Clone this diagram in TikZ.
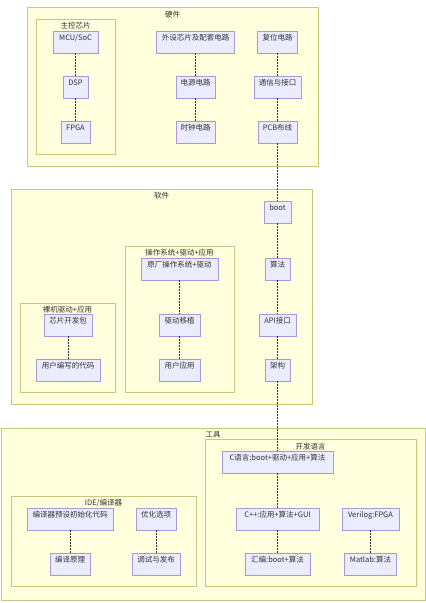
\documentclass[tikz,border=0pt]{standalone}
\usepackage{fontspec}
\setmainfont{Noto Sans CJK SC}
\definecolor{clfill}{HTML}{FFFFDE}
\definecolor{clstroke}{HTML}{C8C87A}
\definecolor{ndfill}{HTML}{ECECFF}
\definecolor{ndstroke}{HTML}{A898DC}
\definecolor{txt}{HTML}{333333}
\tikzset{
  cl/.style={draw=clstroke, fill=clfill, line width=0.7pt},
  ttl/.style={text=txt, font=\fontsize{7.5}{9}\selectfont, inner sep=0pt},
  nd/.style={draw=ndstroke, fill=ndfill, line width=0.7pt, text=txt,
    font=\fontsize{7.5}{9}\selectfont, inner xsep=0pt, inner ysep=0pt,
    text height=6pt, text depth=9pt, minimum height=21.5pt, anchor=north},
  edge/.style={draw=txt, line width=0.6pt, dash pattern=on 1.5pt off 1.5pt}
}
\begin{document}
\begin{tikzpicture}[x=1pt,y=-1pt]
\useasboundingbox (0,0) rectangle (426,603);
% clusters
\draw[cl] (27,7) rectangle (318,166);
\node[ttl] (thw) at (172.5,15) {硬件};
\draw[cl] (36,19) rectangle (115,154);
\node[ttl] (tmain) at (75.5,26) {主控芯片};
\draw[cl] (11,189) rectangle (312,404);
\node[ttl] (tsw) at (161.5,196) {软件};
\draw[cl] (125,246) rectangle (234,392);
\node[ttl] (tos) at (179.5,253) {操作系统+驱动+应用};
\draw[cl] (20,303) rectangle (115,392);
\node[ttl] (tbare) at (67.5,310) {裸机驱动+应用};
\draw[cl] (1,428) rectangle (425,600);
\node[ttl] (ttool) at (213,435) {工具};
\draw[cl] (11,496) rectangle (196,586);
\node[ttl] (tide) at (103.5,503) {IDE/编译器};
\draw[cl] (205,439) rectangle (416,586);
\node[ttl] (tlang) at (310.5,447) {开发语言};
% nodes: hardware
\node[nd, minimum width=45pt] (mcu) at (75.5,31) {MCU/SoC};
\node[nd, minimum width=25pt] (dsp) at (75.5,76) {DSP};
\node[nd, minimum width=29pt] (fpga) at (75.5,121) {FPGA};
\node[nd, minimum width=78pt] (periph) at (195.5,31) {外设芯片及配套电路};
\node[nd, minimum width=39pt] (power) at (195.5,76) {电源电路};
\node[nd, minimum width=39pt] (clock) at (195.5,121) {时钟电路};
\node[nd, minimum width=40pt] (reset) at (277.5,31) {复位电路};
\node[nd, minimum width=47pt] (comm) at (277.5,76) {通信与接口};
\node[nd, minimum width=39pt] (pcb) at (277.5,121) {PCB布线};
% software
\node[nd, minimum width=27pt] (boot) at (277.5,201) {boot};
\node[nd, minimum width=25pt] (algo) at (277.5,258) {算法};
\node[nd, minimum width=37pt] (api) at (277.5,314) {API接口};
\node[nd, minimum width=25pt] (arch) at (277.5,359) {架构};
\node[nd, minimum width=77pt] (vendor) at (179.5,258) {原厂操作系统+驱动};
\node[nd, minimum width=41pt] (port) at (179.5,314) {驱动移植};
\node[nd, minimum width=41pt] (userapp) at (179.5,359) {用户应用};
\node[nd, minimum width=48pt] (sdk) at (68,314) {芯片开发包};
\node[nd, minimum width=64pt] (usercode) at (68,359) {用户编写的代码};
% tools
\node[nd, minimum width=86pt] (preset) at (70,508) {编译器预设初始化代码};
\node[nd, minimum width=40pt] (theory) at (70,553) {编译原理};
\node[nd, minimum width=40pt] (opt) at (156,508) {优化选项};
\node[nd, minimum width=48pt] (debug) at (156,553) {调试与发布};
\node[nd, minimum width=111pt] (clang) at (277.5,451) {C语言:boot+驱动+应用+算法};
\node[nd, minimum width=83pt] (cpp) at (277.5,508) {C++:应用+算法+GUI};
\node[nd, minimum width=65pt] (asm) at (277.5,553) {汇编:boot+算法};
\node[nd, minimum width=57pt] (verilog) at (370.5,508) {Verilog:FPGA};
\node[nd, minimum width=52pt] (matlab) at (370.5,553) {Matlab:算法};
% edges
\draw[edge] (mcu.south) -- (dsp.north);
\draw[edge] (dsp.south) -- (fpga.north);
\draw[edge] (periph.south) -- (power.north);
\draw[edge] (power.south) -- (clock.north);
\draw[edge] (reset.south) -- (comm.north);
\draw[edge] (comm.south) -- (pcb.north);
\draw[edge] (pcb.south) -- (boot.north);
\draw[edge] (boot.south) -- (algo.north);
\draw[edge] (algo.south) -- (api.north);
\draw[edge] (api.south) -- (arch.north);
\draw[edge] (arch.south) -- (clang.north);
\draw[edge] (clang.south) -- (cpp.north);
\draw[edge] (cpp.south) -- (asm.north);
\draw[edge] (vendor.south) -- (port.north);
\draw[edge] (port.south) -- (userapp.north);
\draw[edge] (sdk.south) -- (usercode.north);
\draw[edge] (preset.south) -- (theory.north);
\draw[edge] (opt.south) -- (debug.north);
\draw[edge] (verilog.south) -- (matlab.north);
\end{tikzpicture}
\end{document}
